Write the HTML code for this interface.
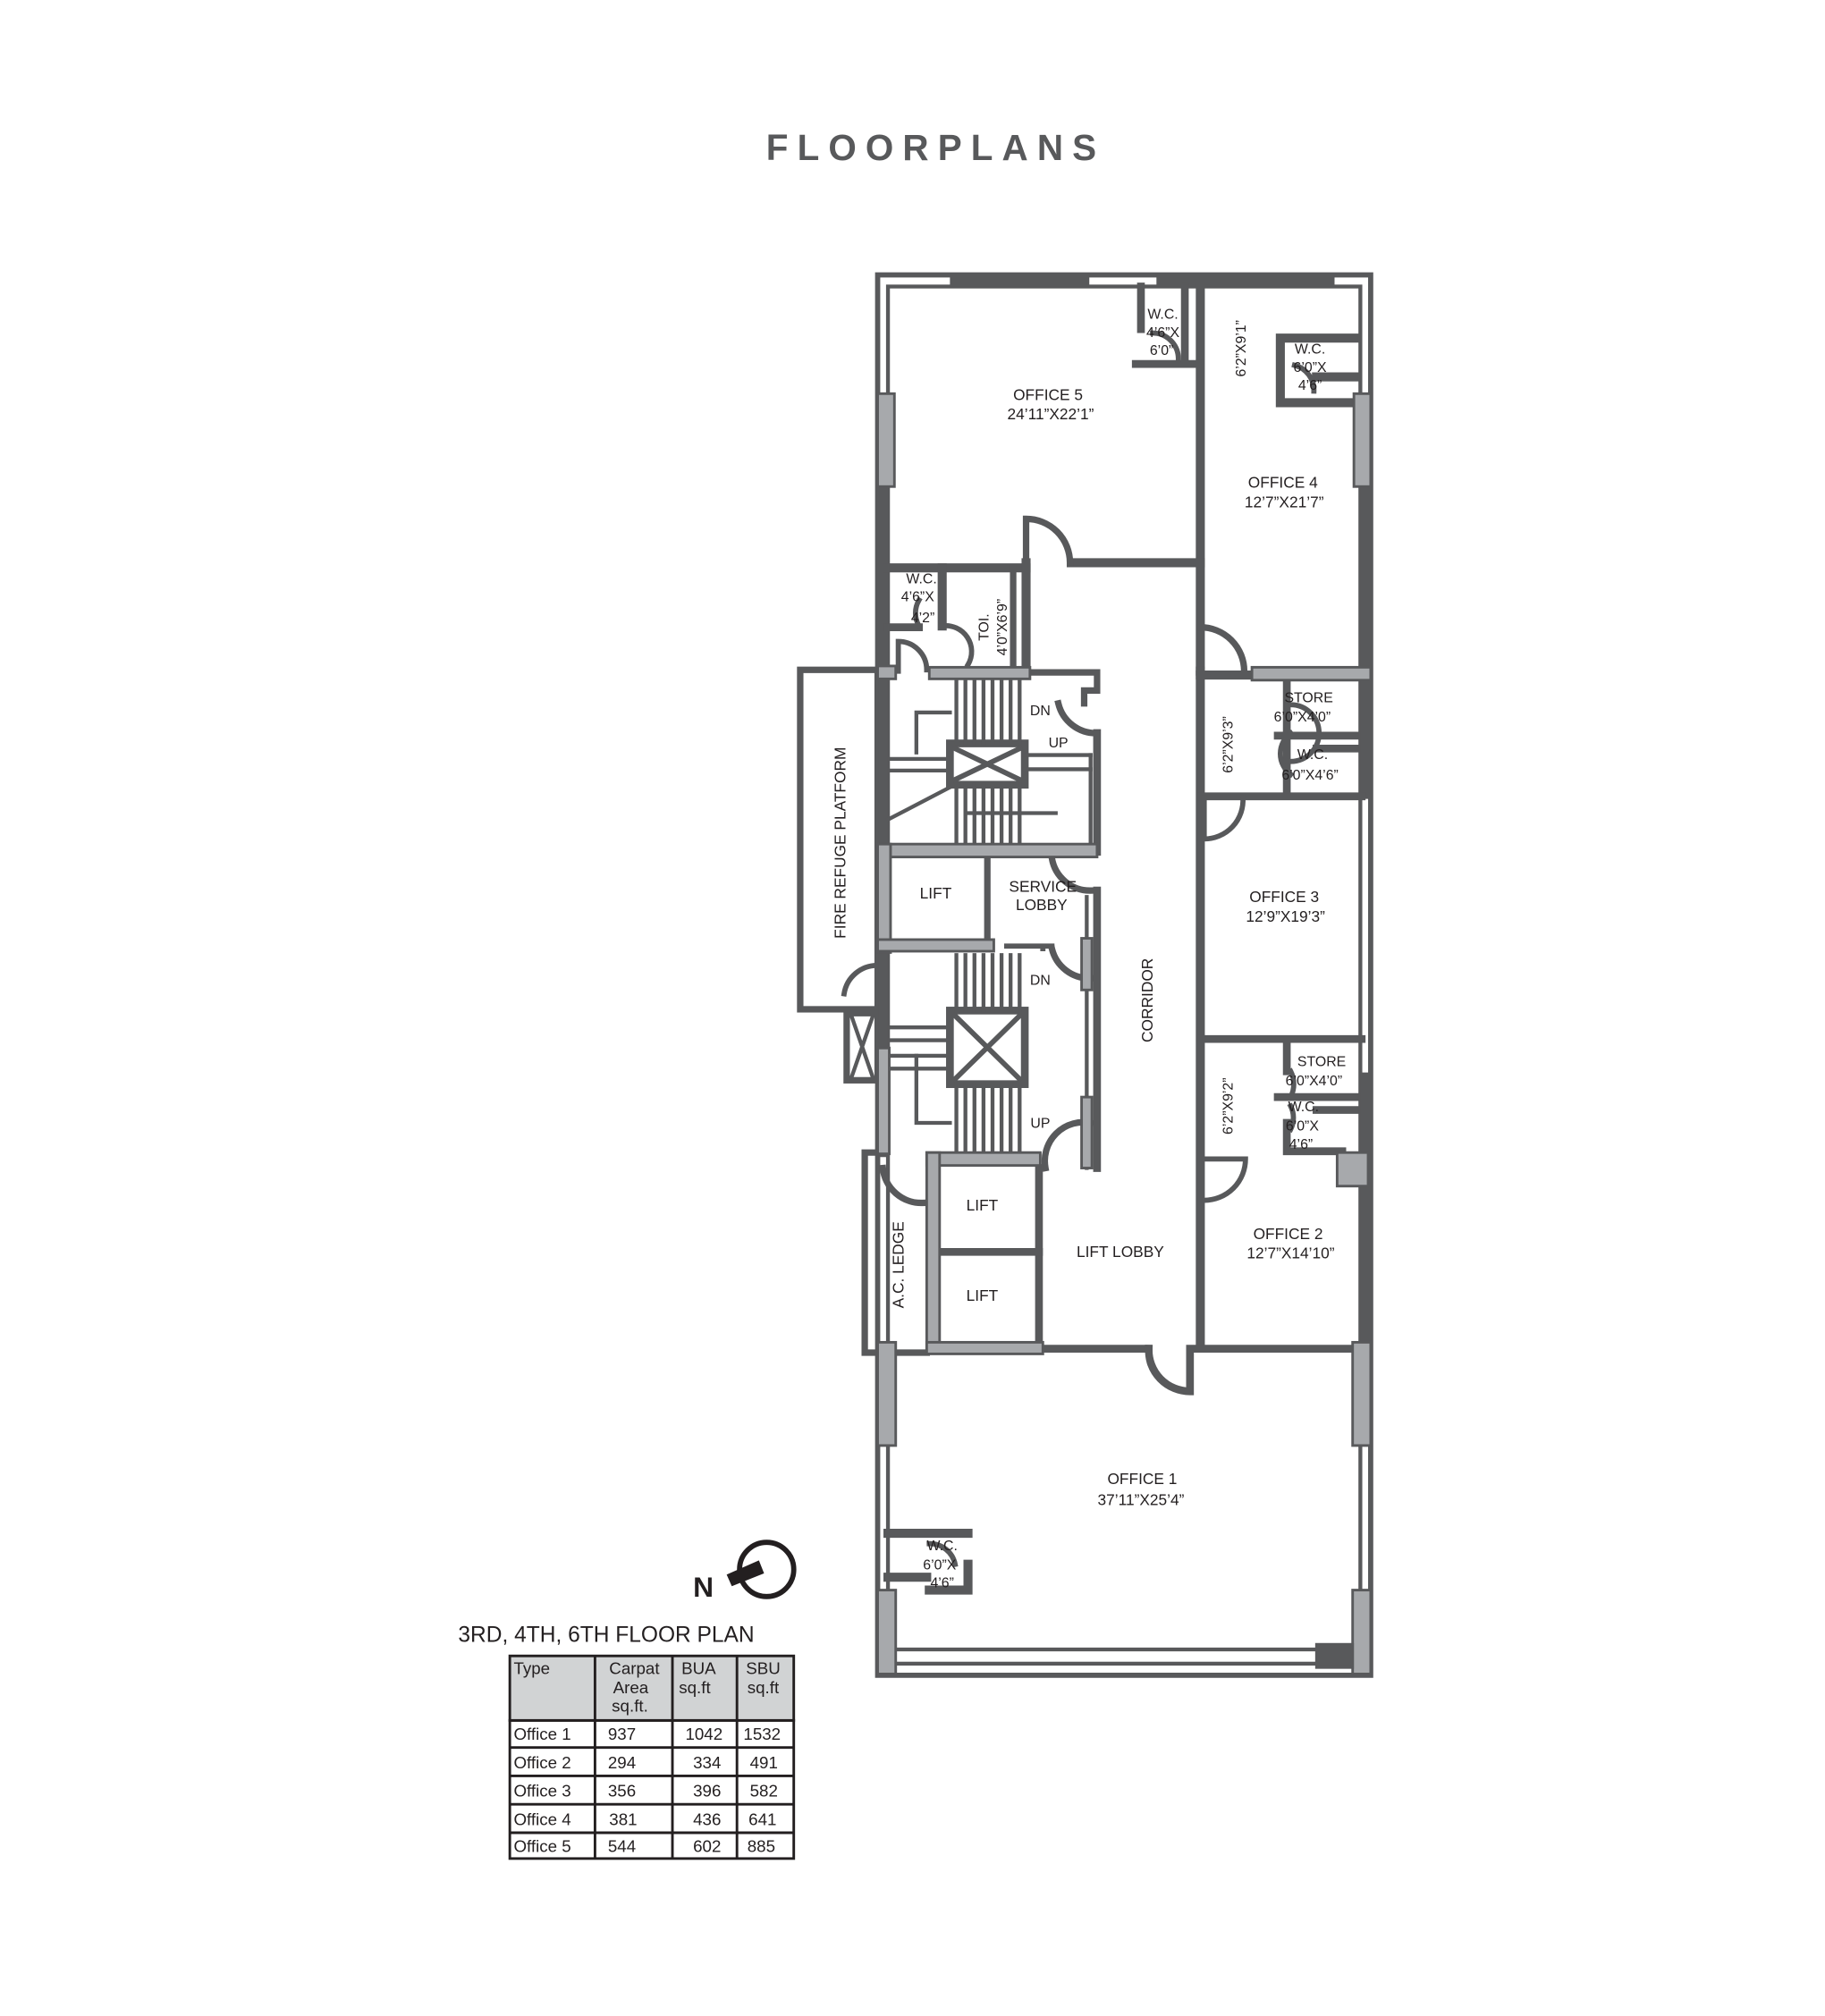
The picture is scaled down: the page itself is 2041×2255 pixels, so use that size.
<!DOCTYPE html>
<html><head><meta charset="utf-8"><style>
html,body{margin:0;padding:0;background:#fff}
svg{display:block}
text{font-family:"Liberation Sans",Arial,sans-serif;fill:#231f20}
</style></head><body>
<svg width="2041" height="2255" viewBox="0 0 1414 1562" preserveAspectRatio="none" xmlns="http://www.w3.org/2000/svg">
<rect width="1414" height="1562" fill="#fff"/>
<text x="725" y="124" text-anchor="middle" font-size="28" font-weight="bold" letter-spacing="7" style="fill:#58595b">FLOORPLANS</text>

<g stroke="#58595b" fill="none" stroke-linecap="square">
<!-- outer double wall -->
<rect x="680" y="213" width="382" height="1085" stroke-width="4"/>
<rect x="688" y="222" width="366" height="1067" stroke-width="3"/>
<!-- thick segments on outer -->
<line x1="740" y1="217" x2="840" y2="217" stroke-width="8"/>
<line x1="900" y1="217" x2="1030" y2="217" stroke-width="8"/>
<line x1="684" y1="377" x2="684" y2="520" stroke-width="8"/>
<line x1="1058" y1="377" x2="1058" y2="520" stroke-width="8"/>
<line x1="1058" y1="530" x2="1058" y2="615" stroke-width="8"/>
<line x1="1058" y1="835" x2="1058" y2="895" stroke-width="8"/>
<line x1="1058" y1="920" x2="1058" y2="1040" stroke-width="8"/>

<!-- office5 / office4 -->
<line x1="930" y1="222" x2="930" y2="520" stroke-width="7"/>
<line x1="830" y1="436" x2="930" y2="436" stroke-width="7"/>
<path d="M795 436 L795 402 A34 34 0 0 1 829 436" stroke-width="5"/>
<!-- wc office5 -->
<path d="M884 222 L884 255 M880 282 L930 282 M918 222 L918 282" stroke-width="6"/>
<path d="M893 258 A20 20 0 0 1 913 278" stroke-width="4"/>
<!-- wc office4 -->
<path d="M1050 262 L992 262 L992 312 L1050 312 M1020 292 L1050 292" stroke-width="7"/>
<path d="M1003 283 A20 20 0 0 1 1018 303" stroke-width="4"/>
<!-- office4 door -->
<path d="M930 486 A34 34 0 0 1 964 520" stroke-width="5"/>

<!-- wc / toi block -->
<line x1="688" y1="440" x2="795" y2="440" stroke-width="7"/>
<line x1="795" y1="436" x2="795" y2="518" stroke-width="7"/>
<line x1="730" y1="440" x2="730" y2="485" stroke-width="7"/>
<line x1="688" y1="486" x2="712" y2="486" stroke-width="6"/>
<line x1="785" y1="440" x2="785" y2="518" stroke-width="5"/>
<path d="M730 485 A20 20 0 0 1 750 515" stroke-width="4"/>
<path d="M712 465 A20 20 0 0 0 712 485" stroke-width="4"/>
<path d="M696 520 L696 497 A22 22 0 0 1 718 519" stroke-width="4"/>

<!-- fire refuge -->
<rect x="620" y="519" width="60" height="263" stroke-width="5"/>
<rect x="656" y="785" width="24" height="52" stroke-width="5"/>
<path d="M660 788 L676 834 M676 788 L660 834" stroke-width="3"/>
<path d="M654 770 A26 26 0 0 1 680 748" stroke-width="4"/>

<!-- stair block 1 -->
<line x1="684" y1="520" x2="684" y2="893" stroke-width="7"/>
<path d="M795 521 L850 521 L850 535 L840 535 L840 545" stroke-width="5"/>
<line x1="850" y1="568" x2="850" y2="660" stroke-width="6"/>
<path d="M820 545 A30 30 0 0 0 850 568" stroke-width="5"/>
<rect x="736" y="576" width="58" height="32" stroke-width="6"/>
<path d="M740 580 L790 604 M790 580 L740 604" stroke-width="4"/>
<g stroke-width="3">
<line x1="741" y1="528" x2="741" y2="576"/><line x1="748" y1="528" x2="748" y2="576"/><line x1="755" y1="528" x2="755" y2="576"/><line x1="762" y1="528" x2="762" y2="576"/><line x1="769" y1="528" x2="769" y2="576"/><line x1="776" y1="528" x2="776" y2="576"/><line x1="783" y1="528" x2="783" y2="576"/><line x1="790" y1="528" x2="790" y2="576"/>
<line x1="741" y1="608" x2="741" y2="655"/><line x1="748" y1="608" x2="748" y2="655"/><line x1="755" y1="608" x2="755" y2="655"/><line x1="762" y1="608" x2="762" y2="655"/><line x1="769" y1="608" x2="769" y2="655"/><line x1="776" y1="608" x2="776" y2="655"/><line x1="783" y1="608" x2="783" y2="655"/><line x1="790" y1="608" x2="790" y2="655"/>
<line x1="690" y1="588" x2="736" y2="588"/><line x1="690" y1="597" x2="736" y2="597"/>
<line x1="794" y1="585" x2="845" y2="585"/><line x1="794" y1="596" x2="845" y2="596"/>
<path d="M710 583 L710 552 L736 552"/>
<line x1="688" y1="635" x2="736" y2="610"/>
<line x1="750" y1="630" x2="818" y2="630"/>
<line x1="845" y1="585" x2="845" y2="655"/>
</g>
<!-- stair block 2 -->
<rect x="736" y="783" width="58" height="57" stroke-width="6"/>
<path d="M740 787 L790 836 M790 787 L740 836" stroke-width="4"/>
<g stroke-width="3">
<line x1="741" y1="740" x2="741" y2="783"/><line x1="748" y1="740" x2="748" y2="783"/><line x1="755" y1="740" x2="755" y2="783"/><line x1="762" y1="740" x2="762" y2="783"/><line x1="769" y1="740" x2="769" y2="783"/><line x1="776" y1="740" x2="776" y2="783"/><line x1="783" y1="740" x2="783" y2="783"/><line x1="790" y1="740" x2="790" y2="783"/>
<line x1="741" y1="840" x2="741" y2="900"/><line x1="748" y1="840" x2="748" y2="900"/><line x1="755" y1="840" x2="755" y2="900"/><line x1="762" y1="840" x2="762" y2="900"/><line x1="769" y1="840" x2="769" y2="900"/><line x1="776" y1="840" x2="776" y2="900"/><line x1="783" y1="840" x2="783" y2="900"/><line x1="790" y1="840" x2="790" y2="900"/>
<line x1="690" y1="796" x2="736" y2="796"/><line x1="690" y1="806" x2="736" y2="806"/><line x1="690" y1="818" x2="736" y2="818"/><line x1="690" y1="828" x2="736" y2="828"/>
<path d="M710 818 L710 870 L736 870"/>
</g>
<line x1="765" y1="665" x2="765" y2="735" stroke-width="5"/>
<path d="M808 735 L808 733 M780 733 L815 733" stroke-width="4"/>
<path d="M815 735 A30 30 0 0 0 845 758" stroke-width="5"/>
<path d="M815 665 A30 30 0 0 0 845 690" stroke-width="5"/>
<line x1="850" y1="690" x2="850" y2="905" stroke-width="6"/>
<line x1="842" y1="695" x2="842" y2="905" stroke-width="3"/>
<path d="M810 905 A30 30 0 0 1 845 870" stroke-width="5"/>
<path d="M684 905 A30 30 0 0 0 715 932" stroke-width="5"/>

<!-- A.C ledge -->
<path d="M718 1048 L670 1048 L670 893 L684 893" stroke-width="5"/>

<!-- lifts -->
<line x1="805" y1="905" x2="805" y2="1045" stroke-width="6"/>
<line x1="722" y1="970" x2="805" y2="970" stroke-width="6"/>

<!-- right side blocks -->
<line x1="930" y1="520" x2="930" y2="1040" stroke-width="7"/>
<line x1="930" y1="523" x2="970" y2="523" stroke-width="7"/>
<line x1="930" y1="617" x2="1055" y2="617" stroke-width="6"/>
<line x1="997" y1="523" x2="997" y2="612" stroke-width="6"/>
<path d="M990 570 L1050 570 M1020 580 L1050 580" stroke-width="6"/>
<path d="M1000 546 A22 22 0 0 1 1000 590 M1000 568 A20 20 0 0 0 1000 600" stroke-width="4"/>
<path d="M933 618 L933 650 A30 30 0 0 0 963 618" stroke-width="4"/>
<line x1="930" y1="805" x2="1055" y2="805" stroke-width="6"/>
<path d="M997 810 L997 830 M990 850 L1050 850 M1020 860 L1050 860 M997 870 L997 892 L1040 892" stroke-width="6"/>
<path d="M1000 830 A22 22 0 0 1 1000 850 M1000 857 A20 20 0 0 1 1000 875" stroke-width="4"/>
<path d="M933 898 L965 898 A32 32 0 0 1 933 930" stroke-width="4"/>

<!-- lower walls -->
<line x1="808" y1="1045" x2="890" y2="1045" stroke-width="6"/>
<path d="M890 1045 A32 32 0 0 0 922 1078 L922 1045 L1055 1045" stroke-width="6"/>
<!-- office1 wc -->
<path d="M688 1188 L750 1188 M720 1232 L750 1232 L750 1212 M688 1222 L718 1222" stroke-width="7"/>
<path d="M720 1196 A20 20 0 0 1 740 1212" stroke-width="4"/>
<line x1="688" y1="1278" x2="1055" y2="1278" stroke-width="3"/>
</g>

<!-- gray windows / walls -->
<g fill="#a7a9ac" stroke="#58595b" stroke-width="2">
<rect x="680" y="305" width="13" height="72"/>
<rect x="1049" y="305" width="13" height="72"/>
<rect x="680" y="516" width="14" height="10"/>
<rect x="720" y="517" width="78" height="9"/>
<rect x="970" y="517" width="92" height="10"/>
<rect x="680" y="654" width="170" height="10"/>
<rect x="680" y="654" width="10" height="84"/>
<rect x="680" y="728" width="90" height="9"/>
<rect x="838" y="727" width="8" height="40"/>
<rect x="838" y="850" width="8" height="55"/>
<rect x="680" y="812" width="9" height="82"/>
<rect x="718" y="893" width="88" height="10"/>
<rect x="718" y="893" width="10" height="155"/>
<rect x="718" y="1040" width="90" height="9"/>
<rect x="680" y="1040" width="14" height="80"/>
<rect x="1048" y="1040" width="14" height="80"/>
<rect x="680" y="1232" width="14" height="65"/>
<rect x="1048" y="1232" width="14" height="65"/>
<rect x="1036" y="893" width="24" height="26"/>
<rect x="1020" y="1274" width="28" height="18" fill="#58595b"/>
</g>

<g font-size="12" text-anchor="middle">
<text x="812" y="310">OFFICE 5</text><text x="814" y="325">24’11”X22’1”</text>
<text x="994" y="378">OFFICE 4</text><text x="995" y="393">12’7”X21’7”</text>
<text x="901" y="247" font-size="11">W.C.</text><text x="901" y="261" font-size="11">4’6”X</text><text x="900" y="275" font-size="11">6’0”</text>
<text x="1015" y="274" font-size="11">W.C.</text><text x="1015" y="288" font-size="11">6’0”X</text><text x="1015" y="302" font-size="11">4’6”</text>
<text x="714" y="452" font-size="11">W.C.</text><text x="711" y="466" font-size="11">4’6”X</text><text x="715" y="482" font-size="11">4’2”</text>
<text x="1014" y="544" font-size="11">STORE</text><text x="1009" y="559" font-size="11">6’0”X4’0”</text>
<text x="1017" y="588" font-size="11">W.C.</text><text x="1015" y="604" font-size="11">6’0”X4’6”</text>
<text x="995" y="699">OFFICE 3</text><text x="996" y="714">12’9”X19’3”</text>
<text x="1024" y="826" font-size="11">STORE</text><text x="1018" y="841" font-size="11">6’0”X4’0”</text>
<text x="1010" y="861" font-size="11">W.C.</text><text x="1009" y="876" font-size="11">6’0”X</text><text x="1008" y="890" font-size="11">4’6”</text>
<text x="998" y="960">OFFICE 2</text><text x="1000" y="975">12’7”X14’10”</text>
<text x="725" y="696">LIFT</text>
<text x="808" y="691">SERVICE</text><text x="807" y="705">LOBBY</text>
<text x="761" y="938">LIFT</text><text x="761" y="1008">LIFT</text>
<text x="868" y="974">LIFT LOBBY</text>
<text x="885" y="1150">OFFICE 1</text><text x="884" y="1166">37’11”X25’4”</text>
<text x="730" y="1201" font-size="11">W.C.</text><text x="728" y="1216" font-size="11">6’0”X</text><text x="730" y="1230" font-size="11">4’6”</text>
<text x="806" y="554" font-size="11">DN</text><text x="820" y="579" font-size="11">UP</text>
<text x="806" y="763" font-size="11">DN</text><text x="806" y="874" font-size="11">UP</text>
<text transform="translate(893,775) rotate(-90)">CORRIDOR</text>
<text transform="translate(655,653) rotate(-90)">FIRE REFUGE PLATFORM</text>
<text transform="translate(700,980) rotate(-90)">A.C. LEDGE</text>
<text transform="translate(965,270) rotate(-90)" font-size="11">6’2”X9’1”</text>
<text transform="translate(955,577) rotate(-90)" font-size="11">6’2”X9’3”</text>
<text transform="translate(955,857) rotate(-90)" font-size="11">6’2”X9’2”</text>
<text transform="translate(766,486) rotate(-90)" font-size="11">TOI.</text>
<text transform="translate(768,486) rotate(-90)" font-size="11" dy="12">4’0”X6’9”</text>
</g>

<!-- north -->
<circle cx="594" cy="1216" r="21" fill="none" stroke="#231f20" stroke-width="4"/>
<path d="M563 1220 L588 1209 L592 1219 L567 1229 Z" fill="#231f20"/>
<text x="537" y="1237" font-size="22" font-weight="bold">N</text>

<text x="355" y="1272" font-size="17">3RD, 4TH, 6TH FLOOR PLAN</text>
<g stroke="#231f20" stroke-width="2">
<rect x="395" y="1283" width="220" height="50" fill="#d1d3d4"/>
<rect x="395" y="1333" width="220" height="107" fill="none"/>
<line x1="461" y1="1283" x2="461" y2="1440"/><line x1="521" y1="1283" x2="521" y2="1440"/><line x1="571" y1="1283" x2="571" y2="1440"/>
<line x1="395" y1="1354" x2="615" y2="1354"/><line x1="395" y1="1376" x2="615" y2="1376"/><line x1="395" y1="1398" x2="615" y2="1398"/><line x1="395" y1="1420" x2="615" y2="1420"/>
</g>
<g font-size="13">
<text x="398" y="1297">Type</text>
<text x="472" y="1297">Carpat</text><text x="475" y="1312">Area</text><text x="474" y="1326">sq.ft.</text>
<text x="528" y="1297">BUA</text><text x="526" y="1312">sq.ft</text>
<text x="578" y="1297">SBU</text><text x="579" y="1312">sq.ft</text>
<text x="398" y="1348">Office 1</text><text x="471" y="1348">937</text><text x="531" y="1348">1042</text><text x="576" y="1348">1532</text>
<text x="398" y="1370">Office 2</text><text x="471" y="1370">294</text><text x="537" y="1370">334</text><text x="581" y="1370">491</text>
<text x="398" y="1392">Office 3</text><text x="471" y="1392">356</text><text x="537" y="1392">396</text><text x="581" y="1392">582</text>
<text x="398" y="1414">Office 4</text><text x="472" y="1414">381</text><text x="537" y="1414">436</text><text x="580" y="1414">641</text>
<text x="398" y="1435">Office 5</text><text x="471" y="1435">544</text><text x="537" y="1435">602</text><text x="579" y="1435">885</text>
</g>
</svg>
</body></html>
